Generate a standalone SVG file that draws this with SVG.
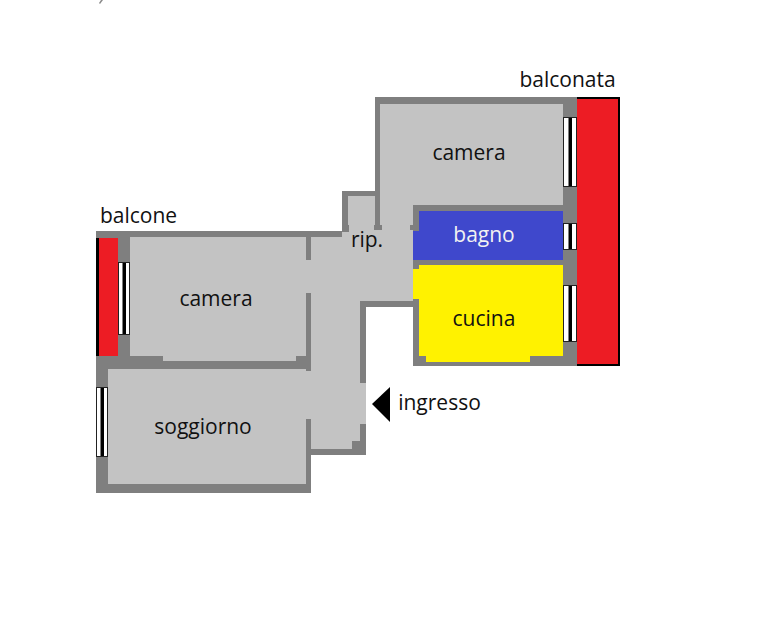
<svg xmlns="http://www.w3.org/2000/svg" width="780" height="627" viewBox="0 0 780 627">
<style>
.room{fill:#c3c3c3}
.wall{fill:#7f7f7f}
.red{fill:#ed1c24}
.blk{fill:#000}
.winf{fill:#fff;stroke:#222;stroke-width:1}
text{font-family:"Open Sans","Noto Sans","DejaVu Sans",sans-serif;font-size:21px;fill:#111;text-anchor:middle}
</style>
<rect width="780" height="627" fill="#fff"/>
<path d="M100 4L103 0H101L99 3Z" fill="#8a8a8a"/>

<!-- room floors -->
<path class="room" d="M375 97H563V211H413V301H360V383H366V424H360V449H306V484H107V369H306V361H130V237H342V191H375Z"/>
<!-- bathroom and kitchen -->
<rect x="413" y="211" width="150" height="49" fill="#3f48cc"/>
<path d="M413 265H563V356H563V362H426V356H419V306H413Z" fill="#fff200"/>

<!-- balconies -->
<rect class="blk" x="96" y="238" width="3" height="118"/>
<rect class="red" x="99" y="238" width="19" height="118"/>
<rect class="red" x="577" y="97" width="42" height="269"/>
<path class="blk" d="M577 97H620V366H577V364H618V99H577Z"/>

<!-- walls -->
<g id="walls">
<path class="wall" d="M375 97H577V366H413V299H419V356H426V362H530V356H563V104H380V225H382V230H374V225H375Z"/>
<path class="wall" d="M413 205H563V211H419V231H413V230H410V225H413Z"/>
<path class="wall" d="M413 260H563V265H419V269H413Z"/>
<path class="wall" d="M342 191H375V196H348V225H349V232H342V237H311V260H306V237H130V356H118V238H96V231H342Z"/>
<path class="wall" d="M360 301H419V307H366V383H360Z"/>
<path class="wall" d="M96 356H163V361H296V356H306V293H311V371H306V369H108V484H306V419H311V449H352V441H360V424H366V455H311V493H96Z"/>
</g>

<!-- windows -->
<g id="windows">
<rect class="winf" x="563.5" y="117.5" width="13" height="69"/><rect class="blk" x="568.5" y="118" width="3.5" height="68"/>
<rect class="winf" x="563.5" y="223.5" width="13" height="26"/><rect class="blk" x="568.5" y="224" width="3.5" height="25"/>
<rect class="winf" x="563.5" y="285.5" width="13" height="56"/><rect class="blk" x="568.5" y="286" width="3.5" height="55"/>
<rect class="winf" x="118.5" y="262.5" width="11" height="72"/><rect class="blk" x="122.5" y="263" width="3.5" height="71"/>
<rect class="winf" x="96.5" y="387.5" width="11" height="69"/><rect class="blk" x="100.5" y="388" width="3.5" height="68"/>
</g>

<!-- entrance arrow -->
<polygon class="blk" points="372,404 390,387 390,422"/>

<!-- labels -->
<g id="labels">
<text x="567.5" y="87">balconata</text>
<text x="469" y="160">camera</text>
<text x="484" y="242" style="fill:#f2f2f2">bagno</text>
<text x="367" y="247">rip.</text>
<text x="484" y="326">cucina</text>
<text x="138.5" y="223">balcone</text>
<text x="216" y="306">camera</text>
<text x="203" y="434">soggiorno</text>
<text x="439.5" y="410">ingresso</text>
</g>
</svg>
